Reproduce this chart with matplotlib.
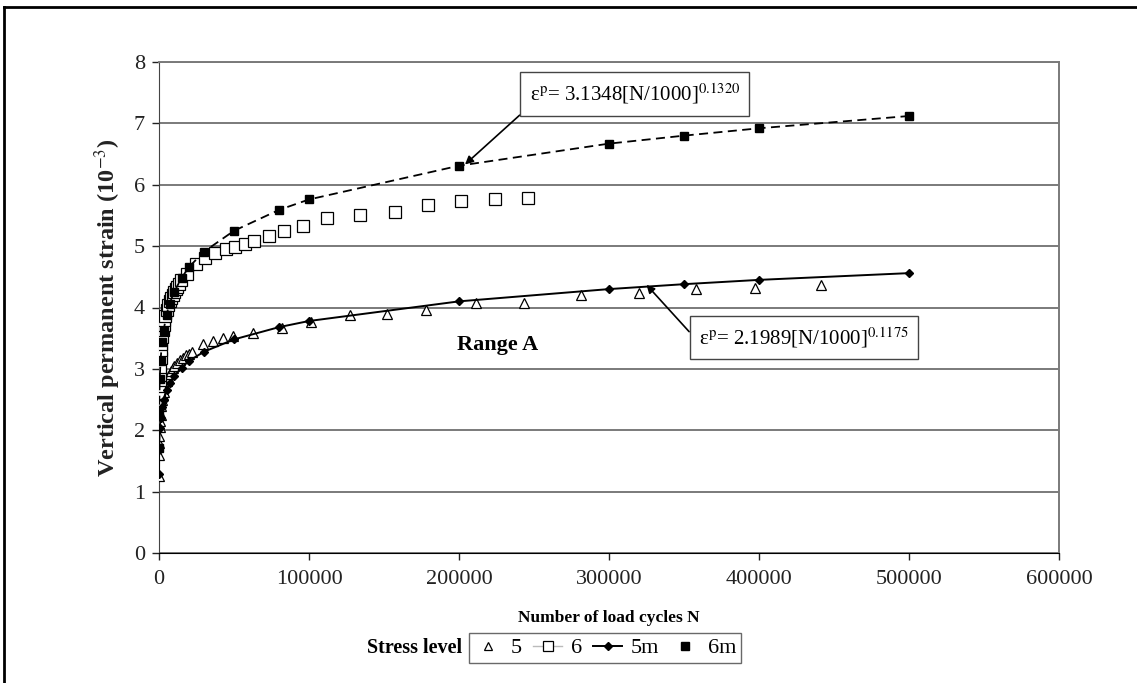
#!/usr/bin/env python3
import numpy as np
import matplotlib
matplotlib.use('Agg')
import matplotlib.pyplot as plt
from matplotlib.lines import Line2D

plt.rcParams['font.family'] = ['Liberation Serif', 'DejaVu Serif']
plt.rcParams['mathtext.fontset'] = 'stix'

# stress level 5 (open triangles)
n_5 = [10, 100, 200, 300, 500, 700, 1000, 1500, 2000, 2500, 3000, 4000, 5000, 6000,
       7000, 8000, 9000, 10000, 12000, 14000, 16000, 18000, 20000, 22000, 29500,
       36000, 42500, 49000, 62500, 82000, 101000, 127000, 152000, 178000, 211000,
       243000, 281000, 320000, 358000, 397000, 441000]
eps_5 = [1.26, 1.6, 1.8, 1.9, 2.05, 2.15, 2.25, 2.4, 2.5, 2.57, 2.63, 2.72, 2.8, 2.86,
         2.92, 2.97, 3.01, 3.05, 3.1, 3.15, 3.18, 3.22, 3.25, 3.28, 3.4,
         3.45, 3.5, 3.54, 3.58, 3.66, 3.77, 3.87, 3.9, 3.96, 4.07,
         4.08, 4.2, 4.24, 4.3, 4.32, 4.36]

# stress level 6 (open squares)
n_6 = [100, 200, 300, 400, 500, 700, 1000, 1300, 1600, 2000, 2500, 3000, 3500, 4000,
       5000, 6000, 7000, 8000, 9000, 10000, 11000, 12000, 13000, 14700, 18500, 24700,
       30700, 37500, 44500, 50500, 57000, 63500, 73500, 83000, 96000, 112000, 134000,
       157000, 179000, 201000, 224000, 246000]
eps_6 = [2.45, 2.6, 2.72, 2.82, 2.9, 3.03, 3.18, 3.3, 3.4, 3.52, 3.63, 3.72, 3.8, 3.86,
         3.96, 4.04, 4.1, 4.16, 4.21, 4.25, 4.3, 4.34, 4.38, 4.45, 4.55, 4.71,
         4.81, 4.89, 4.96, 4.99, 5.04, 5.09, 5.16, 5.24, 5.33, 5.46, 5.5,
         5.56, 5.67, 5.73, 5.76, 5.78]

# model curves 5m / 6m
n_m = [10, 100, 500, 1000, 2000, 3000, 5000, 7000, 10000, 15000, 20000, 30000, 50000,
       80000, 100000, 200000, 300000, 350000, 400000, 500000]
eps_5m = [1.28, 1.68, 2.03, 2.2, 2.38, 2.5, 2.66, 2.77, 2.88, 3.02, 3.13, 3.28, 3.48,
          3.68, 3.78, 4.1, 4.3, 4.38, 4.45, 4.56]
eps_6m = [1.71, 2.31, 2.84, 3.13, 3.43, 3.62, 3.88, 4.06, 4.25, 4.48, 4.66, 4.91, 5.25,
          5.59, 5.76, 6.31, 6.67, 6.8, 6.92, 7.12]

x_ticks = [0, 100000, 200000, 300000, 400000, 500000, 600000]
y_ticks = [0, 1, 2, 3, 4, 5, 6, 7, 8]

W, H = 1137, 683
fig = plt.figure(figsize=(W/100, H/100), dpi=100)
ax = fig.add_axes([159/W, 1-553/H, 900/W, 491/H])

ax.plot(n_5, eps_5, ls='none', marker='^', ms=7, mfc='white', mec='black', mew=0.9, zorder=3)
ax.plot(n_6, eps_6, ls='none', marker='s', ms=8, mfc='white', mec='black', mew=0.9, zorder=3)
ax.plot(n_m, eps_5m, color='black', lw=1.4, marker='D', ms=4.5, zorder=4)
ax.plot(n_m, eps_6m, color='black', lw=1.3, ls=(0, (5, 3)), marker='s', ms=6, zorder=4)

ax.set_xlim(0, 600000)
ax.set_ylim(0, 8)
ax.set_xticks(x_ticks)
ax.set_yticks(y_ticks)
ax.set_xticklabels([str(v) for v in x_ticks])
ax.tick_params(axis='both', direction='out', length=5, width=1, labelsize=16, colors='#222222')
ax.tick_params(axis='x', pad=7)
ax.tick_params(axis='y', pad=5)
ax.yaxis.grid(True, color='#7a7a7a', lw=1.4)
ax.set_axisbelow(True)
for s in ['top', 'right']:
    ax.spines[s].set_color('#7a7a7a')
    ax.spines[s].set_linewidth(1.4)
ax.spines['left'].set_color('#444444')
ax.spines['bottom'].set_color('black')

ax.set_ylabel(r'Vertical permanent strain (10$^{-3}$)', fontsize=17.5, fontweight='bold',
              labelpad=8, color='#222222')
fig.text(609/W, 1-618/H, 'Number of load cycles N', ha='center', va='center',
         fontsize=12.5, fontweight='bold')

box = dict(boxstyle='square,pad=0.45', fc='white', ec='#444444', lw=1.0)
ax.annotate('ε$^{\\mathrm{p}}$= 3.1348[N/1000]$^{0.1320}$', xy=(204000, 6.33),
            xytext=(247000, 7.48), fontsize=15, ha='left', va='center', bbox=box,
            arrowprops=dict(arrowstyle='-|>', color='black', lw=1.2,
                            relpos=(0.0, 0.0), shrinkA=0, shrinkB=0, mutation_scale=12))
ax.annotate('ε$^{\\mathrm{p}}$= 2.1989[N/1000]$^{0.1175}$', xy=(325000, 4.37),
            xytext=(360000, 3.51), fontsize=15, ha='left', va='center', bbox=box,
            arrowprops=dict(arrowstyle='-|>', color='black', lw=1.2,
                            relpos=(0.0, 0.3), shrinkA=0, shrinkB=0, mutation_scale=12))
ax.text(226000, 3.39, 'Range A', fontsize=16, fontweight='bold', ha='center', va='center')

handles = [
    Line2D([], [], ls='none', marker='^', ms=6, mfc='white', mec='black', mew=0.9),
    Line2D([], [], color='#bbbbbb', lw=1.0, marker='s', ms=7, mfc='white', mec='black', mew=0.9),
    Line2D([], [], color='black', lw=1.4, marker='D', ms=4.5),
    Line2D([], [], ls='none', marker='s', ms=6, color='black'),
]
leg = fig.legend(handles, ['5', '6', '5m', '6m'], ncol=4, loc='center',
                 bbox_to_anchor=(605/W, 1-648/H), fontsize=16, frameon=True, fancybox=False,
                 edgecolor='#444444', handlelength=1.3, handletextpad=0.4, columnspacing=0.5,
                 borderpad=0.2, borderaxespad=0)
leg.get_frame().set_linewidth(1.0)
fig.text(462/W, 1-648/H, 'Stress level', ha='right', va='center', fontsize=14.5,
         fontweight='bold')

# outer frame of the figure
fig.add_artist(Line2D([4/W, 1], [1-7/H, 1-7/H], color='black', lw=2, transform=fig.transFigure))
fig.add_artist(Line2D([4/W, 4/W], [0, 1-7/H], color='black', lw=2, transform=fig.transFigure))

fig.savefig('out.png', dpi=100)
